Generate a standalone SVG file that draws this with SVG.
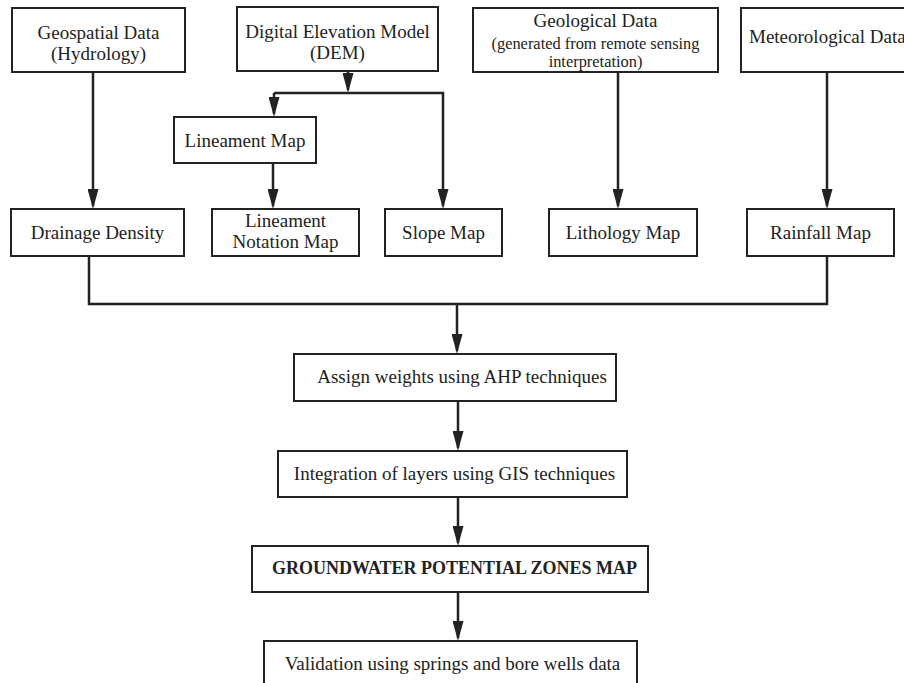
<svg xmlns="http://www.w3.org/2000/svg" width="904" height="683" viewBox="0 0 904 683">
<style>
.box{fill:#fff;stroke:#222;stroke-width:2}
.t{font-family:"Liberation Serif","Times New Roman",serif;font-size:19px;fill:#222;text-anchor:middle}
.s{font-size:16.4px}
.b{font-weight:bold;font-size:18px}
.c{fill:none;stroke:#222;stroke-width:2.5}
</style>
<defs>
<marker id="ah" viewBox="0 0 20 11" markerWidth="20" markerHeight="11" refX="17" refY="5.5" orient="auto" markerUnits="userSpaceOnUse">
<path d="M0,0 L20,5.5 L0,11 z" fill="#222"/>
</marker>
</defs>
<rect width="904" height="683" fill="#fff"/>
<g id="connectors">
<path class="c" d="M93,72 V206" marker-end="url(#ah)"/>
<path class="c" d="M348,71 V90" marker-end="url(#ah)"/>
<path class="c" d="M274,93 V114" marker-end="url(#ah)"/>
<path class="c" d="M274,93 H443 V206" marker-end="url(#ah)"/>
<path class="c" d="M273,163 V206" marker-end="url(#ah)"/>
<path class="c" d="M618,72 V206" marker-end="url(#ah)"/>
<path class="c" d="M827,72 V206" marker-end="url(#ah)"/>
<path class="c" d="M89,256 V304 H827 V256"/>
<path class="c" d="M457,304 V351" marker-end="url(#ah)"/>
<path class="c" d="M458,401 V448" marker-end="url(#ah)"/>
<path class="c" d="M458,497 V543" marker-end="url(#ah)"/>
<path class="c" d="M458,592 V638" marker-end="url(#ah)"/>
</g>
<g id="geospatial"><rect class="box" x="12" y="8" width="173" height="64"/><text class="t" x="98.5" y="39">Geospatial Data</text><text class="t" x="98.5" y="60">(Hydrology)</text></g>
<g id="dem"><rect class="box" x="237" y="7" width="201" height="64"/><text class="t" x="337.5" y="38">Digital Elevation Model</text><text class="t" x="337.5" y="59">(DEM)</text></g>
<g id="geological"><rect class="box" x="473" y="8" width="245" height="64"/><text class="t" x="595.5" y="27">Geological Data</text><text class="t s" x="595.5" y="48.5">(generated from remote sensing</text><text class="t s" x="595.5" y="67">interpretation)</text></g>
<g id="meteorological"><rect class="box" x="741" y="8" width="170" height="64"/><text class="t" x="749" y="43" style="text-anchor:start">Meteorological Data</text></g>
<g id="lineament"><rect class="box" x="174" y="117" width="142" height="46"/><text class="t" x="245" y="147">Lineament Map</text></g>
<g id="drainage"><rect class="box" x="11" y="209" width="173" height="47"/><text class="t" x="97.5" y="239">Drainage Density</text></g>
<g id="lineament-notation"><rect class="box" x="212" y="209" width="147" height="47"/><text class="t" x="285.5" y="227">Lineament</text><text class="t" x="285.5" y="248">Notation Map</text></g>
<g id="slope"><rect class="box" x="385" y="209" width="117" height="47"/><text class="t" x="443.5" y="239">Slope Map</text></g>
<g id="lithology"><rect class="box" x="549" y="209" width="148" height="47"/><text class="t" x="623" y="239">Lithology Map</text></g>
<g id="rainfall"><rect class="box" x="747" y="209" width="147" height="47"/><text class="t" x="820.5" y="239">Rainfall Map</text></g>
<g id="ahp"><rect class="box" x="294" y="354" width="322" height="47"/><text class="t" x="462" y="383">Assign weights using AHP techniques</text></g>
<g id="gis"><rect class="box" x="278" y="451" width="349" height="46"/><text class="t" x="454.5" y="480">Integration of layers using GIS techniques</text></g>
<g id="gwpz"><rect class="box" x="252" y="546" width="396" height="46"/><text class="t b" x="454.5" y="574">GROUNDWATER POTENTIAL ZONES MAP</text></g>
<g id="validation"><rect class="box" x="264" y="641" width="373" height="60"/><text class="t" x="452.5" y="670">Validation using springs and bore wells data</text></g>
</svg>
